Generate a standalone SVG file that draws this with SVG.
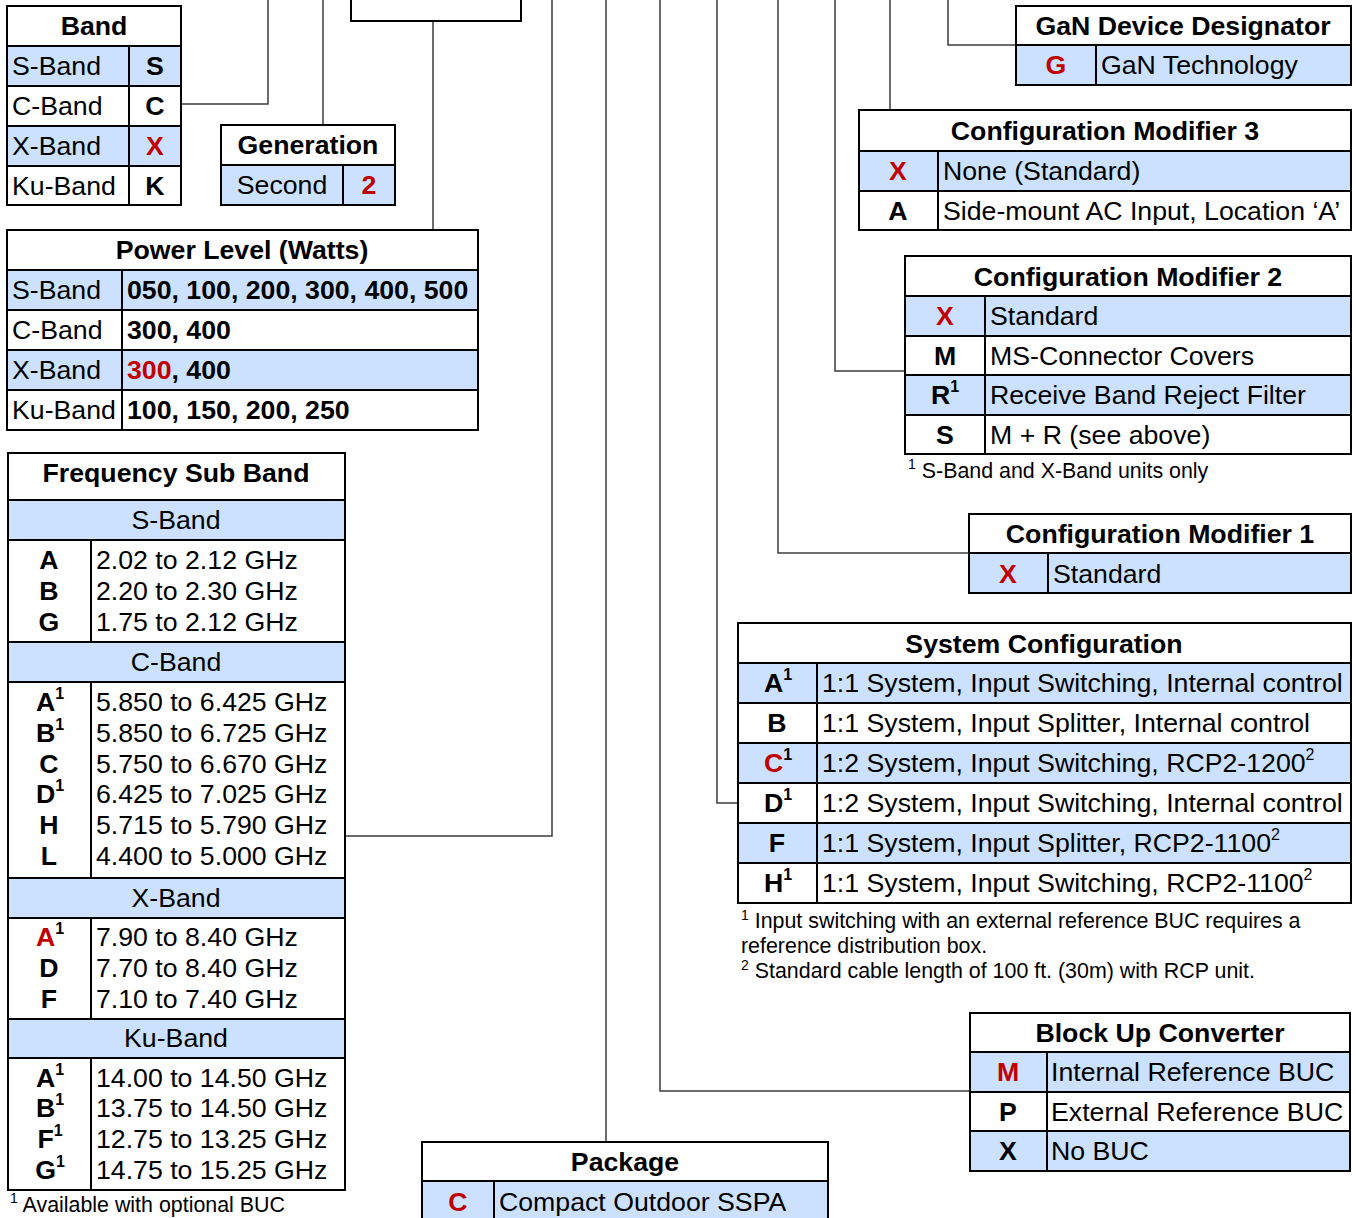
<svg xmlns="http://www.w3.org/2000/svg" width="1356" height="1218" viewBox="0 0 1356 1218">
<style>
text{font-family:"Liberation Sans",Arial,sans-serif;font-size:26.7px;fill:#000}
.b{font-weight:bold}
.r{fill:#c00000}
.h{font-weight:bold;text-anchor:middle}
.c{font-weight:bold;text-anchor:middle}
.m{text-anchor:middle}
.fn{font-size:21.4px}
.sup{font-size:16px}
.fsup{font-size:14px}
.bg{fill:#fff}
.bl{fill:#cce0ff}
.ln{stroke:#000;stroke-width:2;fill:none}
.cn{stroke:#3c3c3c;stroke-width:1.5;fill:none}
</style>
<rect width="1356" height="1218" fill="#fff"/>

<g id="connectors">
<path class="cn" d="M182,104 H268 V0"/>
<path class="cn" d="M323,125 V0"/>
<path class="cn" d="M433,230 V21"/>
<path class="cn" d="M345,836 H552 V0"/>
<path class="cn" d="M606,1142 V0"/>
<path class="cn" d="M970,1091 H660 V0"/>
<path class="cn" d="M738,803 H717 V0"/>
<path class="cn" d="M969,553 H778 V0"/>
<path class="cn" d="M905,371 H835 V0"/>
<path class="cn" d="M890,110 V0"/>
<path class="cn" d="M1016,45 H948 V0"/>
</g>

<g id="partnumber">
<rect class="ln" x="351" y="-5" width="170" height="26" fill="#fff"/>
</g>

<g id="band">
<rect class="bg" x="7" y="6" width="174" height="199"/>
<rect class="bl" x="7" y="46" width="174" height="40"/>
<rect class="bl" x="7" y="126" width="174" height="40"/>
<path class="ln" d="M7,46 H181 M7,86 H181 M7,126 H181 M7,166 H181 M129,46 V205"/>
<rect class="ln" x="7" y="6" width="174" height="199"/>
<text class="h" x="94" y="35">Band</text>
<text x="12" y="75">S-Band</text><text class="c" x="155" y="75">S</text>
<text x="12" y="115">C-Band</text><text class="c" x="155" y="115">C</text>
<text x="12" y="155">X-Band</text><text class="c r" x="155" y="155">X</text>
<text x="12" y="195">Ku-Band</text><text class="c" x="155" y="195">K</text>
</g>

<g id="generation">
<rect class="bg" x="221" y="125" width="174" height="80"/>
<rect class="bl" x="221" y="165" width="174" height="40"/>
<path class="ln" d="M221,165 H395 M343,165 V205"/>
<rect class="ln" x="221" y="125" width="174" height="80"/>
<text class="h" x="308" y="154">Generation</text>
<text class="m" x="282" y="194">Second</text>
<text class="c r" x="369" y="194">2</text>
</g>

<g id="power">
<rect class="bg" x="7" y="230" width="471" height="200"/>
<rect class="bl" x="7" y="270" width="471" height="40"/>
<rect class="bl" x="7" y="350" width="471" height="40"/>
<path class="ln" d="M7,270 H478 M7,310 H478 M7,350 H478 M7,390 H478 M122,270 V430"/>
<rect class="ln" x="7" y="230" width="471" height="200"/>
<text class="h" x="242" y="259">Power Level (Watts)</text>
<text x="12" y="299">S-Band</text><text class="b" x="127" y="299">050, 100, 200, 300, 400, 500</text>
<text x="12" y="339">C-Band</text><text class="b" x="127" y="339">300, 400</text>
<text x="12" y="379">X-Band</text><text class="b" x="127" y="379"><tspan class="r">300</tspan>, 400</text>
<text x="12" y="419">Ku-Band</text><text class="b" x="127" y="419">100, 150, 200, 250</text>
</g>

<g id="frequency">
<rect class="bg" x="8" y="453" width="337" height="737"/>
<rect class="bl" x="8" y="500" width="337" height="40"/>
<rect class="bl" x="8" y="642" width="337" height="40"/>
<rect class="bl" x="8" y="878" width="337" height="40"/>
<rect class="bl" x="8" y="1019" width="337" height="39"/>
<path class="ln" d="M8,500 H345 M8,540 H345 M8,642 H345 M8,682 H345 M8,878 H345 M8,918 H345 M8,1019 H345 M8,1058 H345 M91,540 V642 M91,682 V878 M91,918 V1019 M91,1058 V1190"/>
<rect class="ln" x="8" y="453" width="337" height="737"/>
<text class="h" x="176" y="482">Frequency Sub Band</text>
<text class="m" x="176" y="529">S-Band</text>
<text class="c" x="49" y="569">A</text><text x="96" y="569">2.02 to 2.12 GHz</text>
<text class="c" x="49" y="600">B</text><text x="96" y="600">2.20 to 2.30 GHz</text>
<text class="c" x="49" y="631">G</text><text x="96" y="631">1.75 to 2.12 GHz</text>
<text class="m" x="176" y="671">C-Band</text>
<text class="c" x="50" y="711">A<tspan class="sup" dy="-12">1</tspan></text><text x="96" y="711">5.850 to 6.425 GHz</text>
<text class="c" x="50" y="742">B<tspan class="sup" dy="-12">1</tspan></text><text x="96" y="742">5.850 to 6.725 GHz</text>
<text class="c" x="49" y="773">C</text><text x="96" y="773">5.750 to 6.670 GHz</text>
<text class="c" x="50" y="803">D<tspan class="sup" dy="-12">1</tspan></text><text x="96" y="803">6.425 to 7.025 GHz</text>
<text class="c" x="49" y="834">H</text><text x="96" y="834">5.715 to 5.790 GHz</text>
<text class="c" x="49" y="865">L</text><text x="96" y="865">4.400 to 5.000 GHz</text>
<text class="m" x="176" y="907">X-Band</text>
<text class="c" x="50" y="946"><tspan class="r">A</tspan><tspan class="sup" dy="-12">1</tspan></text><text x="96" y="946">7.90 to 8.40 GHz</text>
<text class="c" x="49" y="977">D</text><text x="96" y="977">7.70 to 8.40 GHz</text>
<text class="c" x="49" y="1008">F</text><text x="96" y="1008">7.10 to 7.40 GHz</text>
<text class="m" x="176" y="1047">Ku-Band</text>
<text class="c" x="50" y="1087">A<tspan class="sup" dy="-12">1</tspan></text><text x="96" y="1087">14.00 to 14.50 GHz</text>
<text class="c" x="50" y="1117">B<tspan class="sup" dy="-12">1</tspan></text><text x="96" y="1117">13.75 to 14.50 GHz</text>
<text class="c" x="50" y="1148">F<tspan class="sup" dy="-12">1</tspan></text><text x="96" y="1148">12.75 to 13.25 GHz</text>
<text class="c" x="50" y="1179">G<tspan class="sup" dy="-12">1</tspan></text><text x="96" y="1179">14.75 to 15.25 GHz</text>
<text class="fn" x="10" y="1212"><tspan class="fsup" dy="-9">1</tspan><tspan dy="9"> Available with optional BUC</tspan></text>
</g>

<g id="gan">
<rect class="bg" x="1016" y="6" width="335" height="79"/>
<rect class="bl" x="1016" y="45" width="335" height="40"/>
<path class="ln" d="M1016,45 H1351 M1096,45 V85"/>
<rect class="ln" x="1016" y="6" width="335" height="79"/>
<text class="h" x="1183" y="35">GaN Device Designator</text>
<text class="c r" x="1056" y="74">G</text>
<text x="1101" y="74">GaN Technology</text>
</g>

<g id="config3">
<rect class="bg" x="859" y="110" width="492" height="120"/>
<rect class="bl" x="859" y="151" width="492" height="40"/>
<path class="ln" d="M859,151 H1351 M859,191 H1351 M938,151 V230"/>
<rect class="ln" x="859" y="110" width="492" height="120"/>
<text class="h" x="1105" y="140">Configuration Modifier 3</text>
<text class="c r" x="898" y="180">X</text><text x="943" y="180">None (Standard)</text>
<text class="c" x="898" y="220">A</text><text x="943" y="220">Side-mount AC Input, Location ‘A’</text>
</g>

<g id="config2">
<rect class="bg" x="905" y="256" width="446" height="198"/>
<rect class="bl" x="905" y="296" width="446" height="40"/>
<rect class="bl" x="905" y="375" width="446" height="40"/>
<path class="ln" d="M905,296 H1351 M905,336 H1351 M905,375 H1351 M905,415 H1351 M985,296 V454"/>
<rect class="ln" x="905" y="256" width="446" height="198"/>
<text class="h" x="1128" y="286">Configuration Modifier 2</text>
<text class="c r" x="945" y="325">X</text><text x="990" y="325">Standard</text>
<text class="c" x="945" y="365">M</text><text x="990" y="365">MS-Connector Covers</text>
<text class="c" x="945" y="404">R<tspan class="sup" dy="-12">1</tspan></text><text x="990" y="404">Receive Band Reject Filter</text>
<text class="c" x="945" y="444">S</text><text x="990" y="444">M + R (see above)</text>
<text class="fn" x="908" y="478"><tspan class="fsup" dy="-9">1</tspan><tspan dy="9"> S-Band and X-Band units only</tspan></text>
</g>

<g id="config1">
<rect class="bg" x="969" y="514" width="382" height="79"/>
<rect class="bl" x="969" y="553" width="382" height="40"/>
<path class="ln" d="M969,553 H1351 M1048,553 V593"/>
<rect class="ln" x="969" y="514" width="382" height="79"/>
<text class="h" x="1160" y="543">Configuration Modifier 1</text>
<text class="c r" x="1008" y="583">X</text><text x="1053" y="583">Standard</text>
</g>

<g id="sysconfig">
<rect class="bg" x="738" y="623" width="613" height="280"/>
<rect class="bl" x="738" y="663" width="613" height="40"/>
<rect class="bl" x="738" y="743" width="613" height="40"/>
<rect class="bl" x="738" y="823" width="613" height="40"/>
<path class="ln" d="M738,663 H1351 M738,703 H1351 M738,743 H1351 M738,783 H1351 M738,823 H1351 M738,863 H1351 M817,663 V903"/>
<rect class="ln" x="738" y="623" width="613" height="280"/>
<text class="h" x="1044" y="653">System Configuration</text>
<text class="c" x="778" y="692">A<tspan class="sup" dy="-12">1</tspan></text><text x="822" y="692">1:1 System, Input Switching, Internal control</text>
<text class="c" x="777" y="732">B</text><text x="822" y="732">1:1 System, Input Splitter, Internal control</text>
<text class="c" x="778" y="772"><tspan class="r">C</tspan><tspan class="sup" dy="-12">1</tspan></text><text x="822" y="772">1:2 System, Input Switching, RCP2-1200<tspan class="sup" dy="-12">2</tspan></text>
<text class="c" x="778" y="812">D<tspan class="sup" dy="-12">1</tspan></text><text x="822" y="812">1:2 System, Input Switching, Internal control</text>
<text class="c" x="777" y="852">F</text><text x="822" y="852">1:1 System, Input Splitter, RCP2-1100<tspan class="sup" dy="-12">2</tspan></text>
<text class="c" x="778" y="892">H<tspan class="sup" dy="-12">1</tspan></text><text x="822" y="892">1:1 System, Input Switching, RCP2-1100<tspan class="sup" dy="-12">2</tspan></text>
<text class="fn" x="741" y="928"><tspan class="fsup" dy="-8">1</tspan><tspan dy="8"> Input switching with an external reference BUC requires a</tspan></text>
<text class="fn" x="741" y="953">reference distribution box.</text>
<text class="fn" x="741" y="978"><tspan class="fsup" dy="-8">2</tspan><tspan dy="8"> Standard cable length of 100 ft. (30m) with RCP unit.</tspan></text>
</g>

<g id="buc">
<rect class="bg" x="970" y="1013" width="380" height="158"/>
<rect class="bl" x="970" y="1052" width="380" height="40"/>
<rect class="bl" x="970" y="1131" width="380" height="40"/>
<path class="ln" d="M970,1052 H1350 M970,1092 H1350 M970,1131 H1350 M1047,1052 V1171"/>
<rect class="ln" x="970" y="1013" width="380" height="158"/>
<text class="h" x="1160" y="1042">Block Up Converter</text>
<text class="c r" x="1008" y="1081">M</text><text x="1051" y="1081">Internal Reference BUC</text>
<text class="c" x="1008" y="1121">P</text><text x="1051" y="1121">External Reference BUC</text>
<text class="c" x="1008" y="1160">X</text><text x="1051" y="1160">No BUC</text>
</g>

<g id="package">
<rect class="bg" x="422" y="1142" width="406" height="80"/>
<rect class="bl" x="422" y="1181" width="406" height="41"/>
<path class="ln" d="M422,1181 H828 M494,1181 V1222"/>
<rect class="ln" x="422" y="1142" width="406" height="80"/>
<text class="h" x="625" y="1171">Package</text>
<text class="c r" x="458" y="1211">C</text><text x="499" y="1211">Compact Outdoor SSPA</text>
</g>
</svg>
